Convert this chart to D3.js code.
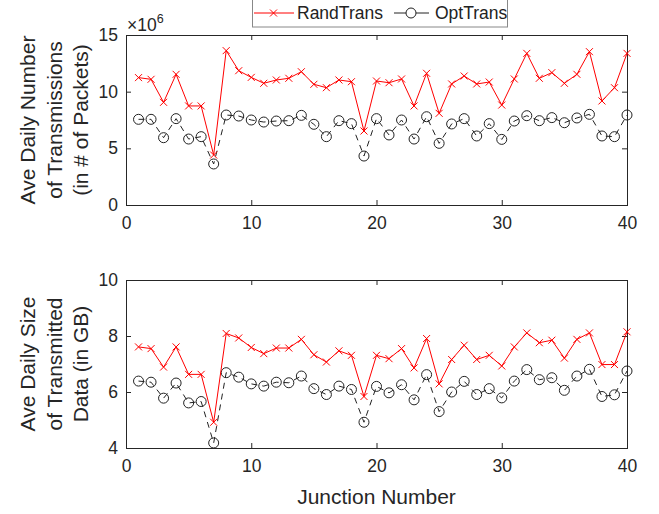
<!DOCTYPE html>
<html><head><meta charset="utf-8">
<script src="https://cdn.jsdelivr.net/npm/d3@7"></script>
<style>body{margin:0;background:#fff}svg{display:block}text{font-family:Arial,"Liberation Sans",Helvetica,sans-serif}</style>
</head><body><svg id="c" width="659" height="514"></svg>
<script>
const junctions = d3.range(1, 41);
const randTransCount = [11.24,11.09,9.06,11.53,8.74,8.74,4.41,13.62,11.85,11.26,10.74,11.03,11.18,11.76,10.65,10.35,11.03,10.88,6.53,10.94,
  10.79,11.12,8.74,11.62,8.09,10.68,11.38,10.68,10.85,8.82,11.12,13.38,11.18,11.68,10.74,11.53,13.53,9.18,10.35,13.38];
const optTransCount = [7.56,7.56,5.94,7.62,5.82,6.03,3.62,7.94,7.85,7.5,7.32,7.41,7.44,7.91,7.12,6.03,7.44,7.18,4.32,7.62,
  6.18,7.5,5.82,7.79,5.44,7.15,7.62,6.09,7.18,5.79,7.41,7.88,7.44,7.71,7.26,7.68,8.0,6.09,6.03,7.94];
const randTransSize = [7.61,7.55,6.89,7.61,6.63,6.63,4.92,8.09,7.93,7.59,7.37,7.57,7.57,7.88,7.33,7.07,7.47,7.31,5.84,7.31,
  7.19,7.55,6.86,7.91,6.29,7.16,7.67,7.16,7.31,6.93,7.61,8.11,7.76,7.85,7.21,7.88,8.11,6.98,6.98,8.15];
const optTransSize = [6.39,6.35,5.78,6.32,5.61,5.66,4.18,6.69,6.53,6.29,6.21,6.35,6.33,6.57,6.12,5.91,6.21,6.09,4.92,6.2,
  5.97,6.26,5.72,6.62,5.3,6.0,6.38,5.91,6.12,5.79,6.39,6.8,6.44,6.51,6.06,6.57,6.81,5.84,5.9,6.75];
const xTicks = [0, 10, 20, 30, 40];
const yTicksTop = [0, 5, 10, 15];
const yTicksBottom = [4, 6, 8, 10];
const seriesNames = ["RandTrans", "OptTrans"];
const yLabelTop = ["Ave Daily Number", "of Transmissions", "(in # of Packets)"];
const yLabelBottom = ["Ave Daily Size", "of Transmitted", "Data (in GB)"];
const xLabel = "Junction Number";

const svg = d3.select("#c");
const axisColor = "#262626";
const L = 126, R = 627;
const x = d3.scaleLinear().domain([0, 40]).range([L, R]);
const fmt = d3.format("d");

function panel(top, bottom, yDomain, yTicks, rand, opt, ylab) {
  const y = d3.scaleLinear().domain(yDomain).range([bottom, top]);
  const g = svg.append("g");
  g.append("rect").attr("x", L).attr("y", top).attr("width", R - L).attr("height", bottom - top)
    .attr("fill", "none").attr("stroke", axisColor).attr("stroke-width", 1).attr("shape-rendering","crispEdges");
  const ax = g.append("g").attr("transform", `translate(0,${bottom})`)
    .call(d3.axisBottom(x).tickValues(xTicks).tickFormat(fmt).tickSizeInner(-5).tickSizeOuter(0).tickPadding(12));
  const axT = g.append("g").attr("transform", `translate(0,${top})`)
    .call(d3.axisTop(x).tickValues(xTicks).tickSizeInner(-5).tickSizeOuter(0).tickFormat(""));
  const ay = g.append("g").attr("transform", `translate(${L},0)`)
    .call(d3.axisLeft(y).tickValues(yTicks).tickFormat(fmt).tickSizeInner(-5).tickSizeOuter(0).tickPadding(8));
  const ayR = g.append("g").attr("transform", `translate(${R},0)`)
    .call(d3.axisRight(y).tickValues(yTicks).tickSizeInner(-5).tickSizeOuter(0).tickFormat(""));
  [ax, axT, ay, ayR].forEach(a => {
    a.select(".domain").remove();
    a.selectAll("line").attr("stroke", axisColor);
    a.selectAll("text").attr("fill", axisColor).style("font-size", "17.5px");
  });
  const line = d3.line().x((d, i) => x(junctions[i])).y(d => y(d));
  g.append("path").datum(opt).attr("d", line).attr("fill", "none")
    .attr("stroke", "#222").attr("stroke-width", 1).attr("stroke-dasharray", "6,5");
  g.selectAll(".oc").data(opt).join("circle")
    .attr("cx", (d, i) => x(junctions[i])).attr("cy", d => y(d)).attr("r", 5)
    .attr("fill", "none").attr("stroke", "#222").attr("stroke-width", 1);
  g.append("path").datum(rand).attr("d", line).attr("fill", "none")
    .attr("stroke", "#ff0000").attr("stroke-width", 1);
  const s = 3.5;
  g.selectAll(".rx").data(rand).join("path")
    .attr("d", (d, i) => { const cx = x(junctions[i]), cy = y(d);
      return `M${cx-s},${cy-s}L${cx+s},${cy+s}M${cx-s},${cy+s}L${cx+s},${cy-s}`; })
    .attr("stroke", "#ff0000").attr("stroke-width", 1).attr("fill", "none");
  const cy = (top + bottom) / 2;
  const lt = g.append("text").attr("transform", `translate(0,${cy}) rotate(-90)`)
    .attr("text-anchor", "middle").attr("fill", axisColor).style("font-size", "21px");
  ylab.forEach((t, i) => lt.append("tspan").attr("x", 0).attr("y", 35 + i * 26.5).text(t));
  return y;
}

panel(35, 205, [0, 15], yTicksTop, randTransCount, optTransCount, yLabelTop);
panel(280, 448, [4, 10], yTicksBottom, randTransSize, optTransSize, yLabelBottom);

const ex = svg.append("text").attr("x", 127).attr("y", 31).attr("fill", axisColor).style("font-size", "17.5px");
ex.append("tspan").text("\u00d710");
ex.append("tspan").attr("dy", -8).style("font-size", "12.5px").text("6");

svg.append("text").attr("x", (L + R) / 2).attr("y", 504).attr("text-anchor", "middle")
  .attr("fill", axisColor).style("font-size", "21px").text(xLabel);

const lg = svg.append("g");
lg.append("rect").attr("x", 252.5).attr("y", -2).attr("width", 255).attr("height", 29)
  .attr("fill", "#fff").attr("stroke", "#888").attr("stroke-width", 1);
const ly = 13;
lg.append("line").attr("x1", 254).attr("x2", 294).attr("y1", ly).attr("y2", ly).attr("stroke", "#ff0000");
lg.append("path").attr("d", `M270,${ly-3.5}L277,${ly+3.5}M270,${ly+3.5}L277,${ly-3.5}`).attr("stroke", "#ff0000");
lg.append("text").attr("x", 297).attr("y", ly + 6).attr("fill", "#222").style("font-size", "17.5px").text(seriesNames[0]);
lg.append("line").attr("x1", 394).attr("x2", 429).attr("y1", ly).attr("y2", ly).attr("stroke", "#222");
lg.append("circle").attr("cx", 411).attr("cy", ly).attr("r", 5).attr("fill", "#fff").attr("stroke", "#222");
lg.append("text").attr("x", 435).attr("y", ly + 6).attr("fill", "#222").style("font-size", "17.5px").text(seriesNames[1]);
</script></body></html>
